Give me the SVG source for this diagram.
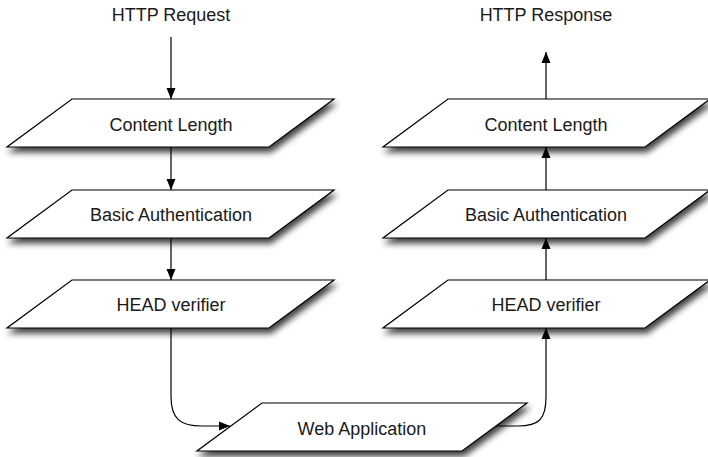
<svg xmlns="http://www.w3.org/2000/svg" width="708" height="457" viewBox="0 0 708 457">
  <style>
    .box { fill: #ffffff; stroke: #000000; stroke-width: 1.2; filter: url(#shadow); }
    .lbl { font-family: "Liberation Sans", Arial, Helvetica, sans-serif; font-size: 18px; fill: #1a1a1a; text-anchor: middle; }
    .edge { fill: none; stroke: #000000; stroke-width: 1.2; marker-end: url(#arrow); }
  </style>
  <defs>
    <filter id="shadow" x="-10%" y="-30%" width="125%" height="190%">
      <feDropShadow dx="2" dy="5" stdDeviation="3" flood-color="#000000" flood-opacity="0.75"/>
    </filter>
    <marker id="arrow" markerUnits="userSpaceOnUse" markerWidth="13" markerHeight="13" viewBox="0 0 13 13" refX="12" refY="6.5" orient="auto">
      <path d="M1,2 L12,6.5 L1,11 Z" fill="#000000"/>
    </marker>
  </defs>
  <rect width="708" height="457" fill="#ffffff"/>

  <text class="lbl" x="171" y="21">HTTP Request</text>
  <text class="lbl" x="546" y="21">HTTP Response</text>

  <g id="connectors">
    <path class="edge" d="M171,37 V99"/>
    <path class="edge" d="M171,147 V190"/>
    <path class="edge" d="M171,238 V280"/>
    <path class="edge" d="M171,328 V396 C171,419 180,426 202,426 H230"/>
    <path class="edge" d="M496,426 H518 C539,426 546,419 546,397 V328"/>
    <path class="edge" d="M546,280 V238"/>
    <path class="edge" d="M546,190 V147"/>
    <path class="edge" d="M546,99 V52"/>
  </g>

  <g id="req-content-length">
    <polygon class="box" points="72,99 334,99 269,147 7,147"/>
    <text class="lbl" x="171" y="131">Content Length</text>
  </g>
  <g id="req-basic-auth">
    <polygon class="box" points="72,190 334,190 269,238 7,238"/>
    <text class="lbl" x="171" y="221">Basic Authentication</text>
  </g>
  <g id="req-head-verifier">
    <polygon class="box" points="72,280 334,280 269,328 7,328"/>
    <text class="lbl" x="171" y="311">HEAD verifier</text>
  </g>
  <g id="web-application">
    <polygon class="box" points="262,403 527,403 462,451 197,451"/>
    <text class="lbl" x="362" y="435">Web Application</text>
  </g>
  <g id="resp-head-verifier">
    <polygon class="box" points="448,280 710,280 645,328 383,328"/>
    <text class="lbl" x="546" y="311">HEAD verifier</text>
  </g>
  <g id="resp-basic-auth">
    <polygon class="box" points="448,190 710,190 645,238 383,238"/>
    <text class="lbl" x="546" y="221">Basic Authentication</text>
  </g>
  <g id="resp-content-length">
    <polygon class="box" points="448,99 710,99 645,147 383,147"/>
    <text class="lbl" x="546" y="131">Content Length</text>
  </g>
</svg>
